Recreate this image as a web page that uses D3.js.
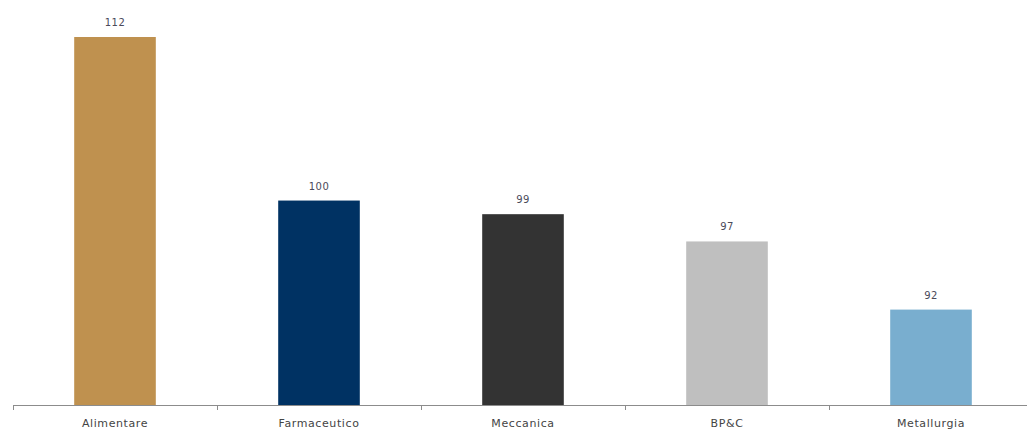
<!DOCTYPE html>
<html>
<head>
<meta charset="utf-8">
<script src="https://cdn.jsdelivr.net/npm/d3@7"></script>
<style>
  body { margin: 0; background: #fff; }
  text { font-family: "DejaVu Sans", sans-serif; }
</style>
</head>
<body>
<script>
// data
var categories = ["Alimentare", "Farmaceutico", "Meccanica", "BP&C", "Metallurgia"];
var values = [112, 100, 99, 97, 92];
var colors = ["#BF914F", "#003263", "#333333", "#BFBFBF", "#79AECF"];

var width = 1027, height = 435;
var baseY = 405;

var svg = d3.select("body").append("svg")
    .attr("width", width)
    .attr("height", height);

var x = d3.scaleBand()
    .domain(categories)
    .range([13, 1033])
    .paddingInner(0.6)
    .paddingOuter(0.3);

var y = d3.scaleLinear()
    .domain([85, 112])
    .range([baseY, 37]);

// bars
svg.selectAll("rect.bar")
    .data(values)
    .enter().append("rect")
    .attr("class", "bar")
    .attr("x", function(d, i) { return x(categories[i]); })
    .attr("y", function(d) { return y(d); })
    .attr("width", x.bandwidth())
    .attr("height", function(d) { return baseY - y(d); })
    .attr("fill", function(d, i) { return colors[i]; });

// value labels
svg.selectAll("text.val")
    .data(values)
    .enter().append("text")
    .attr("class", "val")
    .attr("x", function(d, i) { return x(categories[i]) + x.bandwidth() / 2; })
    .attr("y", function(d) { return y(d) - 11; })
    .attr("text-anchor", "middle")
    .attr("font-size", 10)
    .attr("letter-spacing", 0.5)
    .attr("fill", "#4a4a5a")
    .text(function(d) { return d; });

// axis line + ticks at band borders
var axis = svg.append("g").attr("transform", "translate(0," + baseY + ")");
axis.append("line")
    .attr("x1", 13).attr("x2", width)
    .attr("y1", 0.5).attr("y2", 0.5)
    .attr("stroke", "#8c8c8c");

var borders = categories.map(function(c) { return x(c) - x.step() * x.paddingOuter(); });
axis.selectAll("line.tick")
    .data(borders)
    .enter().append("line")
    .attr("class", "tick")
    .attr("x1", function(d) { return Math.round(d) + 0.5; })
    .attr("x2", function(d) { return Math.round(d) + 0.5; })
    .attr("y1", 0).attr("y2", 5)
    .attr("stroke", "#8c8c8c");

axis.selectAll("text.cat")
    .data(categories)
    .enter().append("text")
    .attr("class", "cat")
    .attr("x", function(c) { return x(c) + x.bandwidth() / 2; })
    .attr("y", 22)
    .attr("text-anchor", "middle")
    .attr("font-size", 11)
    .attr("letter-spacing", 0.6)
    .attr("fill", "#444")
    .text(function(c) { return c; });
</script>
</body>
</html>
